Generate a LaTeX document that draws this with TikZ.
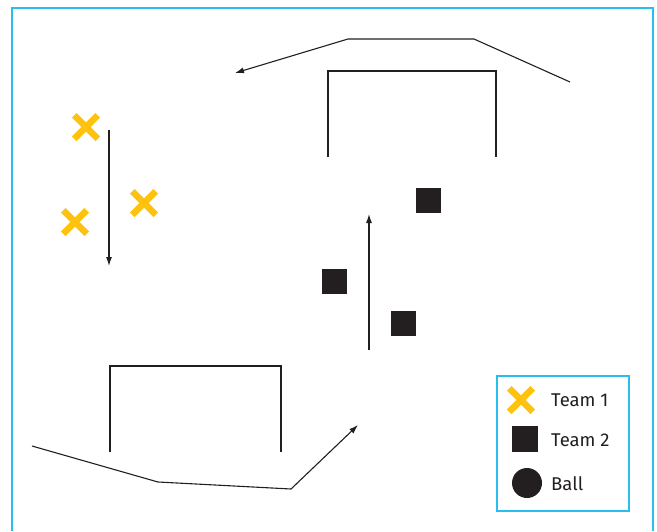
\documentclass[tikz,border=0pt]{standalone}
\usepackage{fontspec}
\setmainfont{Fira Sans}
\usetikzlibrary{arrows.meta,positioning,shapes.misc}
\definecolor{frameblue}{RGB}{41,190,240}
\definecolor{teamyellow}{RGB}{255,194,14}
\definecolor{ink}{RGB}{35,31,32}

\begin{document}
\begin{tikzpicture}[
  x=1pt,y=-1pt,
  line/.style={ink,line width=1.1pt},
  run/.style={line,-{Latex[length=9pt,width=6pt]}},
  goal/.style={ink,line width=1.1pt},
  yel/.style={cross out,draw=teamyellow,line width=6.5pt,minimum size=17pt,inner sep=0pt},
  blk/.style={rectangle,fill=ink,minimum size=25pt,inner sep=0pt},
  ballmark/.style={circle,fill=ink,minimum size=30pt,inner sep=0pt},
  lbl/.style={right,text=ink,font=\fontsize{18.5}{20}\selectfont,inner sep=0pt}
]
  \useasboundingbox (0,0) rectangle (657,531);
  \draw[frameblue,line width=1.6pt] (12,531) -- (12,8) -- (653,8) -- (653,531);

  % goals
  \draw[goal] (328,157) -- (328,71) -- (496,71) -- (496,157);
  \draw[goal] (110,452) -- (110,366) -- (281,366) -- (281,452);

  % players
  \node[yel] (y1) at (86,127) {};
  \node[yel] (y2) at (144,203) {};
  \node[yel] (y3) at (75,222) {};
  \node[blk] (b1) at (428,200) {};
  \node[blk] (b2) at (334,281) {};
  \node[blk] (b3) at (403,323) {};

  % runs
  \coordinate (t1) at (570,82);
  \coordinate (t2) at (474,39);
  \coordinate (t3) at (348,39);
  \coordinate (t4) at (235,73);
  \draw[run] (t1) -- (t2) -- (t3) -- (t4);

  \coordinate (l1) at (109,130);
  \coordinate (l2) at (109,266);
  \draw[run] (l1) -- (l2);

  \coordinate (m1) at (369,350);
  \coordinate (m2) at (369,214);
  \draw[run] (m1) -- (m2);

  \coordinate (s1) at (32,446);
  \coordinate (s2) at (158,482);
  \coordinate (s3) at (291,489);
  \coordinate (s4) at (358,425);
  \draw[run] (s1) -- (s2) -- (s3) -- (s4);

  % key
  \node[draw=frameblue,line width=1.2pt,minimum width=132pt,minimum height=135pt,inner sep=0pt] (key) at (563,443.5) {};
  \node[yel] (k1) at (521,400) {};
  \node[blk,minimum size=26pt] (k2) at (525,439) {};
  \node[ballmark] (k3) at (527,483) {};
  \node[lbl] (k1t) at (551,400) {Team 1};
  \node[lbl] (k2t) at (551,440) {Team 2};
  \node[lbl] (k3t) at (551,484) {Ball};
\end{tikzpicture}
\end{document}
